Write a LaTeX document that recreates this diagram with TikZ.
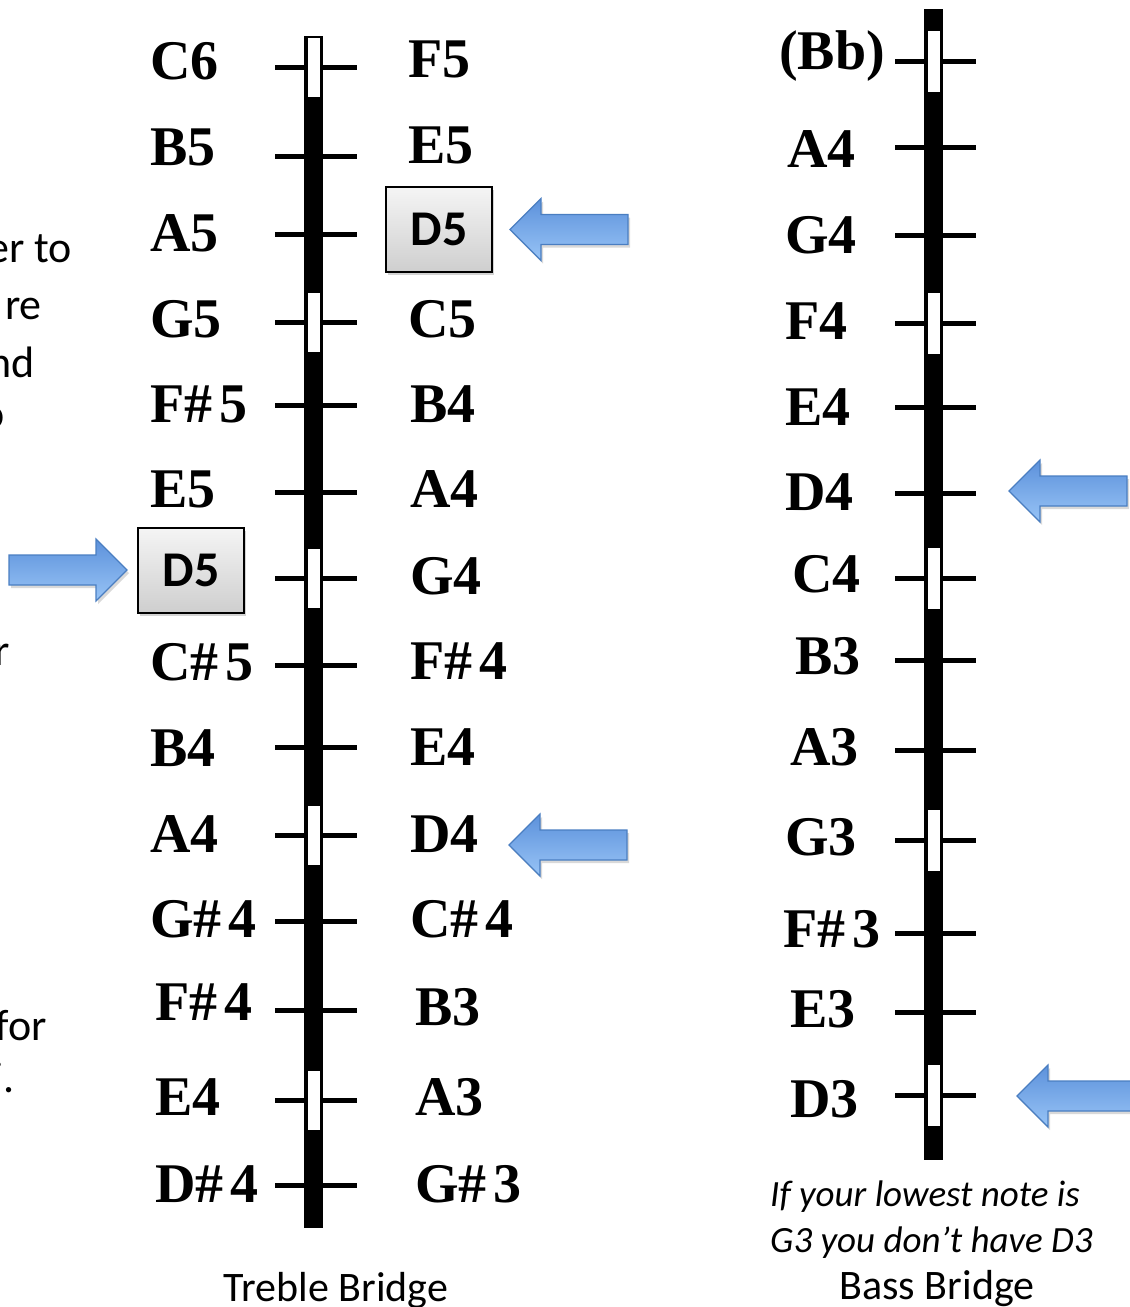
\documentclass[tikz,border=0pt]{standalone}
\usepackage{fontspec}
\setmainfont{Liberation Serif}
\newfontfamily\calibri{Carlito}
\usetikzlibrary{shadows}

\definecolor{arrowline}{RGB}{74,126,193}
\definecolor{arrowtop}{RGB}{92,145,219}
\definecolor{arrowbot}{RGB}{152,196,246}
\newcommand\sharpsp{\#\kern.12em}

\tikzset{
  note/.style={font=\fontsize{56}{60}\selectfont\bfseries, inner sep=0pt, anchor=base west},
  fretline/.style={line width=5pt},
  keybox/.style={draw, line width=2pt, top color=gray!8, bottom color=gray!38,
    minimum width=106pt, minimum height=85pt, inner sep=0pt,
    font=\calibri\bfseries\fontsize{50}{50}\selectfont,
    drop shadow={opacity=0.35, shadow xshift=2pt, shadow yshift=-3pt}},
  caption/.style={font=\calibri\fontsize{42}{42}\selectfont, inner sep=0pt, anchor=base},
  scrap/.style={font=\calibri\fontsize{44}{44}\selectfont, inner sep=0pt, anchor=base east},
  blockarrow/.pic={
    \path[draw=arrowline, line width=1.2pt, top color=arrowtop, bottom color=arrowbot,
      drop shadow={opacity=0.3, shadow xshift=2pt, shadow yshift=-3pt}]
      (0,0) -- (31,31) -- (31,15) -- (118,15) -- (118,-15) -- (31,-15) -- (31,-31) -- cycle;
  }
}

\begin{document}
\begin{tikzpicture}[x=1pt, y=-1pt]
  \useasboundingbox (0,0) rectangle (1130,1307);

  % cut-off text at the left edge
  \begin{scope}
    \clip (0,0) rectangle (1130,1307);
    \node[scrap] (s1) at (72,262) {er to};
    \node[scrap] (s2) at (42,319) {re};
    \node[scrap] (s3) at (35,377) {nd};
    \node[scrap] (s4) at (5,428) {o};
    \node[scrap] (s5) at (10,665) {r};
    \node[scrap] (s6) at (47,1040) {for};
    \node[scrap] (s7) at (15,1092) {i.};
  \end{scope}

  % Treble bridge
  \foreach \y in {67,156,234,322,405,492,578,665,747,835,921,1010,1100,1185}
    \draw[fretline] (275,\y) -- (357,\y);
  \fill (304,36) rectangle (323,1228);
  \foreach \y in {67,322,578,835,1100}
    \filldraw[fill=white, draw=black, line width=0.8pt] (307,\y-30) rectangle (320,\y+30);

  % left side notes
  \foreach \c/\x/\t [count=\i] in {62/150/C6, 148/150/B5, 234/150/A5, 320/150/G5,
      405/150/F\sharpsp5, 490/150/E5, 663/150/C\sharpsp5, 749/150/B4, 835/150/A4,
      920/150/G\sharpsp4, 1003/155/F\sharpsp4, 1098/155/E4, 1185/155/D\sharpsp4}
    \node[note] (tl\i) at (\x,\c+17) {\t};
  \node[keybox] (boxL) at (191,570) {D5};

  % right side notes
  \foreach \c/\x/\t [count=\i] in {60/408/F5, 146/408/E5, 320/408/C5, 405/410/B4,
      490/410/A4, 577/410/G4, 662/410/F\sharpsp4, 748/410/E4, 835/410/D4,
      920/410/C\sharpsp4, 1008/415/B3, 1098/415/A3, 1185/415/G\sharpsp3}
    \node[note] (tr\i) at (\x,\c+17) {\t};
  \node[keybox] (boxR) at (439,229.5) {D5};

  % Bass bridge
  \foreach \y in {61,147,235,323,407,493,578,660,750,840,933,1012,1095}
    \draw[fretline] (895,\y) -- (976,\y);
  \fill (924,9) rectangle (943,1160);
  \foreach \y in {61,323,578,840,1095}
    \filldraw[fill=white, draw=black, line width=0.8pt] (927,\y-31) rectangle (940,\y+31);
  \foreach \c/\x/\t [count=\i] in {52/779/(Bb), 150/787/A4, 236/785/G4, 322/785/F4,
      408/785/E4, 493/785/D4, 575/792/C4, 657/795/B3, 748/790/A3, 838/785/G3,
      930/783/F\sharpsp3, 1010/790/E3, 1100/790/D3}
    \node[note] (b\i) at (\x,\c+17) {\t};

  % arrows
  \pic at ([xshift=17pt]boxR.east) {blockarrow};
  \pic[xscale=-1] at ([xshift=-10pt]boxL.west) {blockarrow};
  \pic at (509,845) {blockarrow};
  \pic at (1009,491) {blockarrow};
  \pic at (1017,1096) {blockarrow};

  % captions
  \node[font=\calibri\itshape\fontsize{37}{37}\selectfont, inner sep=0pt, anchor=base west] (hint1) at (770,1206) {If your lowest note is};
  \node[font=\calibri\itshape\fontsize{37}{37}\selectfont, inner sep=0pt, anchor=base west] (hint2) at (770,1252) {G3 you don’t have D3};
  \node[caption] (treb) at (336,1301) {Treble Bridge};
  \node[caption] (bass) at (937,1299) {Bass Bridge};
\end{tikzpicture}
\end{document}
